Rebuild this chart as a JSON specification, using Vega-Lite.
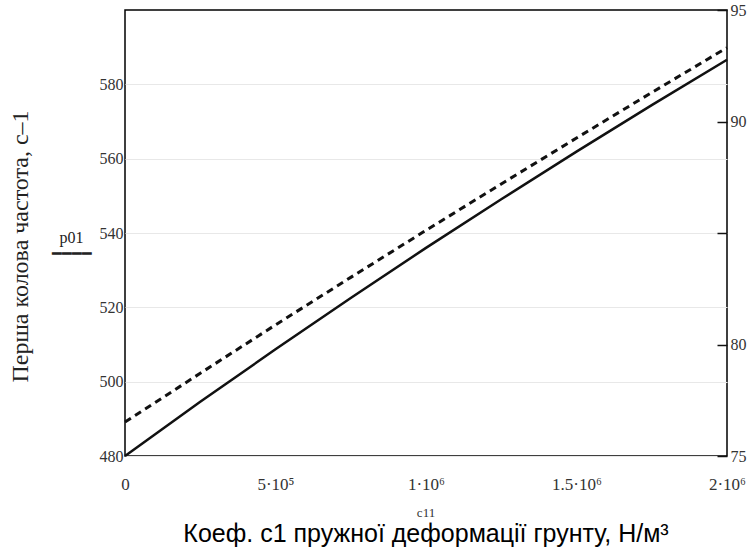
{
  "$schema": "https://vega.github.io/schema/vega-lite/v6.json",
  "width": 602,
  "height": 446,
  "autosize": "none",
  "padding": {"left": 125, "top": 10, "right": 29, "bottom": 95},
  "background": "white",
  "config": {
    "view": {"stroke": "black", "strokeWidth": 1.5},
    "font": "Liberation Serif"
  },
  "title": {
    "text": "c11",
    "subtitle": "Коеф. с1 пружної деформації грунту, Н/м³",
    "orient": "bottom",
    "anchor": "middle",
    "font": "Liberation Serif",
    "fontSize": 13,
    "fontWeight": "normal",
    "color": "#333",
    "subtitleFont": "Liberation Sans",
    "subtitleFontSize": 25,
    "subtitleColor": "black",
    "subtitlePadding": 2,
    "offset": 15
  },
  "data": {
    "values": [
      {"c": 0, "p01": 480.0, "p02": 76.52},
      {"c": 250000, "p01": 494.6, "p02": 78.71},
      {"c": 500000, "p01": 508.7, "p02": 80.88},
      {"c": 750000, "p01": 522.5, "p02": 83.01},
      {"c": 1000000, "p01": 536.0, "p02": 85.12},
      {"c": 1250000, "p01": 549.1, "p02": 87.2},
      {"c": 1500000, "p01": 561.9, "p02": 89.26},
      {"c": 1750000, "p01": 574.4, "p02": 91.3},
      {"c": 2000000, "p01": 586.6, "p02": 93.31}
    ]
  },
  "encoding": {
    "x": {
      "field": "c",
      "type": "quantitative",
      "scale": {"domain": [0, 2000000], "nice": false, "zero": false},
      "axis": {
        "values": [0, 500000, 1000000, 1500000, 2000000],
        "labelExpr": "datum.value == 0 ? '0' : datum.value == 500000 ? '5·10⁵' : datum.value == 1000000 ? '1·10⁶' : datum.value == 1500000 ? '1.5·10⁶' : '2·10⁶'",
        "labelFont": "Liberation Serif",
        "labelFontSize": 17,
        "labelColor": "#333",
        "labelPadding": 20,
        "labelFlush": false,
        "ticks": false,
        "domain": false,
        "grid": false,
        "title": null
      }
    }
  },
  "layer": [
    {
      "mark": {"type": "line", "color": "#111", "strokeWidth": 2.5},
      "encoding": {
        "y": {
          "field": "p01",
          "type": "quantitative",
          "scale": {"domain": [480, 600], "nice": false, "zero": false},
          "axis": {
            "orient": "left",
            "values": [480, 500, 520, 540, 560, 580],
            "labelFont": "Liberation Serif",
            "labelFontSize": 16,
            "labelColor": "#333",
            "labelPadding": 2,
            "ticks": false,
            "domain": false,
            "grid": true,
            "gridColor": "#e8e8e8",
            "gridWidth": 1,
            "title": "Перша колова частота, с–1",
            "titleFont": "Liberation Serif",
            "titleFontSize": 24,
            "titleFontWeight": "normal",
            "titleColor": "#222",
            "titleAngle": 270,
            "titleBaseline": "middle",
            "titleAlign": "center",
            "titleX": -105,
            "titleY": 236
          }
        }
      }
    },
    {
      "mark": {"type": "line", "color": "#111", "strokeWidth": 3, "strokeDash": [7, 5]},
      "encoding": {
        "y": {
          "field": "p02",
          "type": "quantitative",
          "scale": {"domain": [75, 95], "nice": false, "zero": false},
          "axis": {
            "orient": "right",
            "values": [75, 80, 85, 90, 95],
            "labelExpr": "datum.value == 85 ? '' : datum.label",
            "labelFont": "Liberation Serif",
            "labelFontSize": 16,
            "labelColor": "#333",
            "ticks": true,
            "tickSize": -10,
            "tickColor": "#111",
            "tickWidth": 1.5,
            "labelPadding": 13,
            "domain": false,
            "grid": false,
            "title": ["p01", "━━━━"],
            "titleFont": "Liberation Serif",
            "titleFontSize": 16,
            "titleFontWeight": "normal",
            "titleColor": "#222",
            "titleAngle": 0,
            "titleAlign": "center",
            "titleBaseline": "top",
            "titleLineHeight": 16,
            "titleX": -656,
            "titleY": 219
          }
        }
      }
    }
  ],
  "resolve": {"scale": {"y": "independent"}}
}
